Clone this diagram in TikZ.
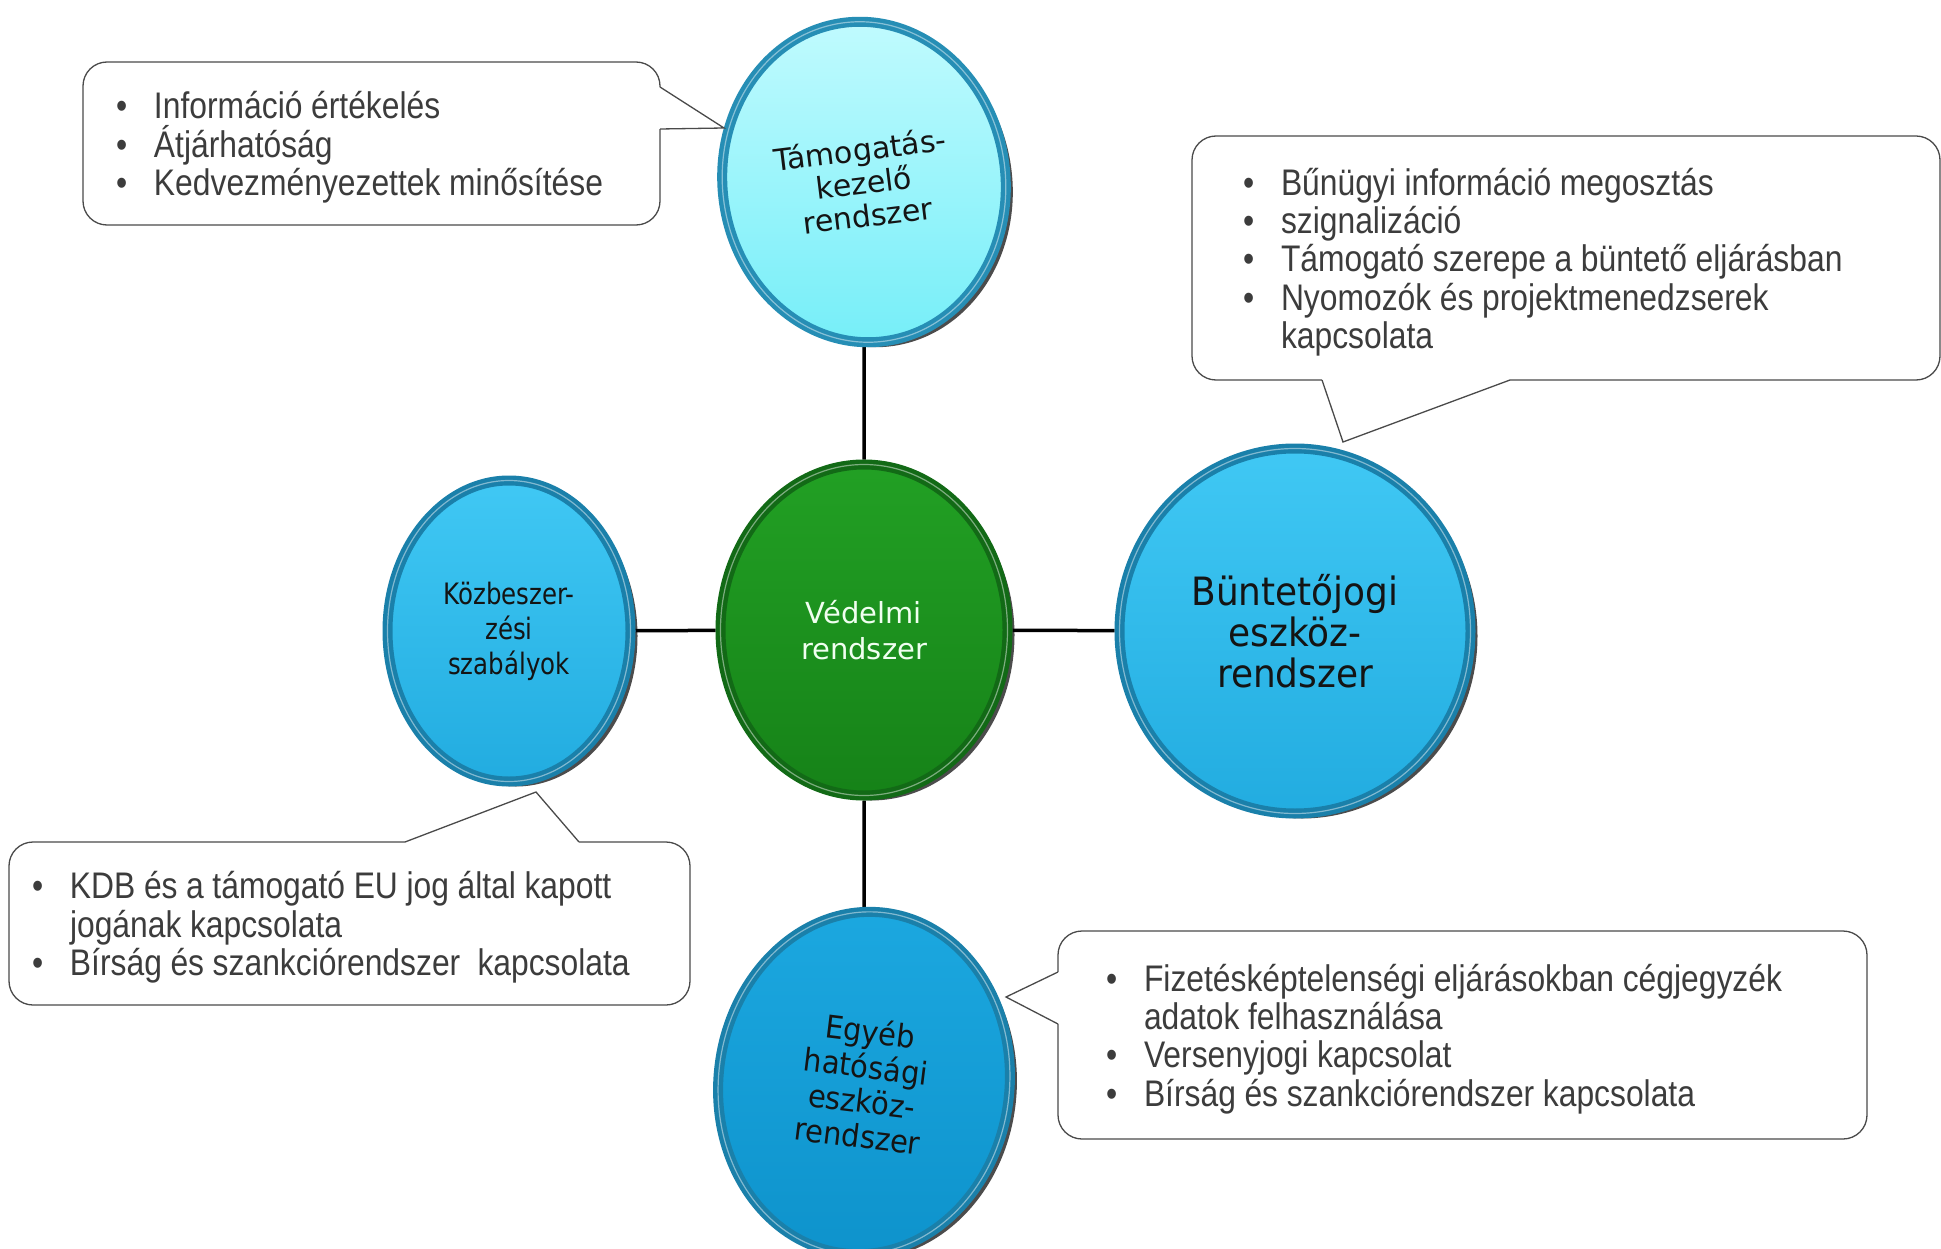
\documentclass[tikz,border=0pt]{standalone}
\usepackage{fontspec}
\usetikzlibrary{shapes.geometric,shadows,calc,backgrounds}

\newfontfamily\notefont[FakeStretch=0.86]{Liberation Sans}
\newfontfamily\discfont{DejaVu Sans}
\newfontfamily\discnarrow[FakeStretch=0.92]{DejaVu Sans}
\newfontfamily\disctight[FakeStretch=0.83]{DejaVu Sans}

\definecolor{notetext}{HTML}{3C3C3C}
\definecolor{noteline}{HTML}{4A4A4A}
\definecolor{rimblue}{HTML}{1A80AA}
\definecolor{rimteal}{HTML}{268EB5}
\definecolor{rimgreen}{HTML}{126A16}
\definecolor{facecyanA}{HTML}{C2FBFE}
\definecolor{facecyanB}{HTML}{74EEF8}
\definecolor{facegreenA}{HTML}{22A024}
\definecolor{facegreenB}{HTML}{168218}
\definecolor{faceblueA}{HTML}{40C8F4}
\definecolor{faceblueB}{HTML}{22ACE0}
\definecolor{facedeepA}{HTML}{1CA8E0}
\definecolor{facedeepB}{HTML}{0E93CC}

% paragraph set-up, one bullet line, and closing of a note box
\newcommand\notesetup{\raggedright\parskip=0pt\relax\spaceskip=8.6pt\relax}
\newcommand\pont[1]{\hangindent=38pt\hangafter=1\noindent\makebox[38pt][l]{\textbullet}#1\par}
\newcommand\noteend{\vspace{-8pt}}

\tikzset{
  disc/.style={ellipse, draw=rimblue, line width=10pt, align=center, text=black!92,
    drop shadow={shadow xshift=7pt, shadow yshift=-5pt, fill=black, opacity=0.7},
    postaction={draw=white, draw opacity=0.45, line width=1.2pt}},
  note/.style={draw=noteline, line width=1.3pt, fill=white, rounded corners=24pt,
    outer sep=0pt, inner ysep=0pt, text=notetext,
    font=\notefont\fontsize{37}{38.3}\selectfont},
  tail/.style={draw=noteline, line width=1.3pt},
  link/.style={line width=3.5pt, black},
}

\begin{document}
\begin{tikzpicture}[x=1pt, y=-1pt]
  \useasboundingbox (0,0) rectangle (1941,1249);

  % the five discs
  \node[disc, minimum width=283pt, minimum height=321pt, rotate=7,
        top color=facecyanA, bottom color=facecyanB, draw=rimteal,
        font=\discfont\fontsize{30}{33}\selectfont] (tam) at (864,182)
        {Támogatás-\\kezelő\\rendszer};
  \node[disc, minimum width=287pt, minimum height=331pt,
        top color=facegreenA, bottom color=facegreenB, draw=rimgreen,
        text=white!94!green, font=\discfont\fontsize{29}{36}\selectfont] (ved) at (864,630)
        {Védelmi\\rendszer};
  \node[disc, minimum width=243pt, minimum height=301pt,
        top color=faceblueA, bottom color=faceblueB,
        font=\disctight\fontsize{29.5}{35}\selectfont] (koz) at (509,631)
        {Közbeszer-\\zési\\szabályok};
  \node[disc, minimum width=351pt, minimum height=365pt,
        top color=faceblueA, bottom color=faceblueB,
        font=\discnarrow\fontsize{39}{41}\selectfont] (bun) at (1295,631)
        {Büntetőjogi\\eszköz-\\rendszer};
  \node[disc, minimum width=291pt, minimum height=343pt, rotate=-7,
        top color=facedeepA, bottom color=facedeepB,
        font=\discnarrow\fontsize{31.5}{35}\selectfont] (egy) at (864,1083)
        {Egyéb\\hatósági\\eszköz-\\rendszer};

  \begin{scope}[on background layer]
    \fill[white] (0,0) rectangle (1941,1249);
    \draw[link] (tam) -- (ved);
    \draw[link] (ved) -- (koz);
    \draw[link] (ved) -- (bun);
    \draw[link] (ved) -- (egy);
  \end{scope}

  % notes
  \node[note, inner xsep=33pt, text width=511pt, minimum height=163pt] (tamnote) at (371.5,143.5)
    {\notesetup
     \pont{Információ értékelés}\pont{Átjárhatóság}\pont{Kedvezményezettek minősítése}\noteend};
  \node[note, inner xsep=51pt, text width=646pt, minimum height=244pt] (bunnote) at (1566,258)
    {\notesetup
     \pont{Bűnügyi információ megosztás}\pont{szignalizáció}
     \pont{Támogató szerepe a büntető eljárásban}
     \pont{Nyomozók és projektmenedzserek\newline kapcsolata}\noteend};
  \node[note, inner xsep=23pt, text width=635pt, minimum height=163pt] (koznote) at (349.5,923.5)
    {\notesetup
     \pont{KDB és a támogató EU jog által kapott\newline jogának kapcsolata}
     \pont{Bírság és szankciórendszer\ \ kapcsolata}\noteend};
  \node[note, inner xsep=48pt, text width=713pt, minimum height=208pt] (egynote) at (1462.5,1035)
    {\notesetup
     \pont{Fizetésképtelenségi eljárásokban cégjegyzék\newline adatok felhasználása}
     \pont{Versenyjogi kapcsolat}\pont{Bírság és szankciórendszer kapcsolata}\noteend};

  % tails of the notes
  \coordinate (tamtip) at (724,128);
  \coordinate (buntip) at (1343,442);
  \coordinate (koztip) at (536,792);
  \coordinate (egytip) at (1006,997);
  \coordinate (tamA) at ($(tamnote.north east)+(0,25)$);
  \coordinate (tamB) at ($(tamnote.north east)+(0,67)$);
  \coordinate (bunA) at ($(bunnote.south west)+(130,0)$);
  \coordinate (bunB) at ($(bunnote.south west)+(318,0)$);
  \coordinate (kozA) at ($(koznote.north west)+(396,0)$);
  \coordinate (kozB) at ($(koznote.north west)+(570,0)$);
  \coordinate (egyA) at ($(egynote.north west)+(0,41)$);
  \coordinate (egyB) at ($(egynote.north west)+(0,93)$);

  \draw[white, line width=2.5pt] (tamA) -- (tamB);
  \draw[tail] (tamA) -- (tamtip) -- (tamB);
  \draw[white, line width=2.5pt] (bunA) -- (bunB);
  \draw[tail] (bunA) -- (buntip) -- (bunB);
  \draw[white, line width=2.5pt] (kozA) -- (kozB);
  \draw[tail] (kozA) -- (koztip) -- (kozB);
  \draw[white, line width=2.5pt] (egyA) -- (egyB);
  \draw[tail] (egyA) -- (egytip) -- (egyB);
\end{tikzpicture}
\end{document}
